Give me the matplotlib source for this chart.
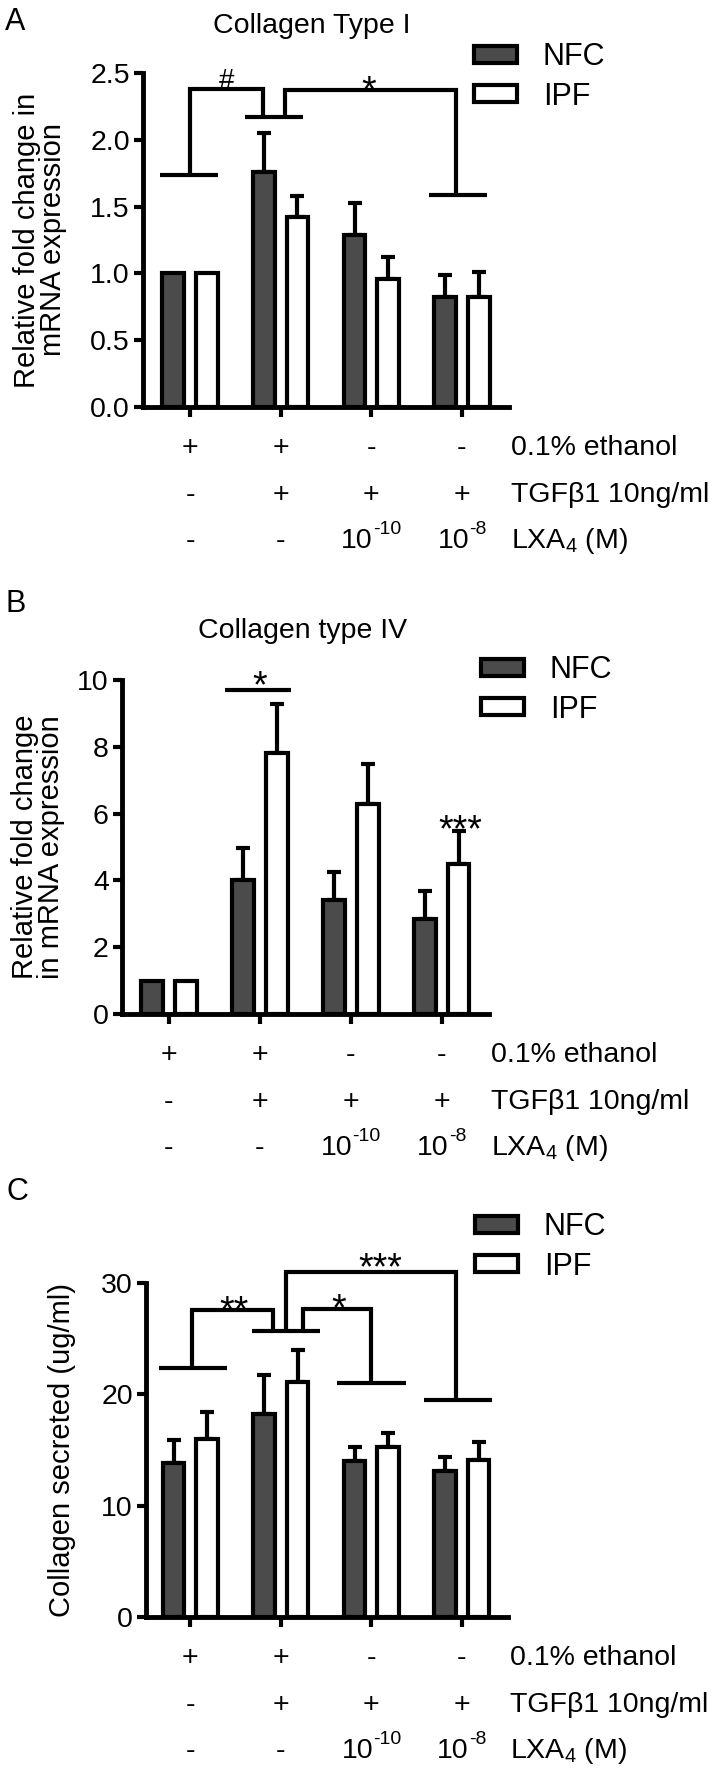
import matplotlib
matplotlib.use('Agg')
import matplotlib.pyplot as plt
import numpy as np

plt.rcParams['font.family'] = ['Liberation Sans', 'DejaVu Sans']
plt.rcParams['mathtext.fontset'] = 'custom'
plt.rcParams['mathtext.rm'] = 'Liberation Sans'
plt.rcParams['mathtext.it'] = 'Liberation Sans:italic'
plt.rcParams['mathtext.bf'] = 'Liberation Sans:bold'

# ---------------- data ----------------
groups = [0, 1, 2, 3]
series_names = ['NFC', 'IPF']
row_titles = ['0.1% ethanol', 'TGFβ1 10ng/ml', r'LXA$_{\mathregular{4}}$ (M)']
ethanol_row = ['+', '+', '-', '-']
tgf_row = ['-', '+', '+', '+']
# LXA4 row: (base, exponent) ; exponent None -> plain text
lxa_row = [('-', None), ('-', None), ('10', '-10'), ('10', '-8')]

# Panel A: Collagen Type I mRNA
a_nfc = [1.0, 1.76, 1.29, 0.82]
a_nfc_err = [0.0, 0.29, 0.24, 0.17]
a_ipf = [1.0, 1.42, 0.96, 0.82]
a_ipf_err = [0.0, 0.16, 0.16, 0.19]
a_yticks = [0.0, 0.5, 1.0, 1.5, 2.0, 2.5]

# Panel B: Collagen type IV mRNA
b_nfc = [1.0, 4.0, 3.4, 2.85]
b_nfc_err = [0.0, 0.98, 0.85, 0.82]
b_ipf = [1.0, 7.8, 6.3, 4.5]
b_ipf_err = [0.0, 1.47, 1.2, 0.98]
b_yticks = [0, 2, 4, 6, 8, 10]

# Panel C: Collagen secreted
c_nfc = [13.8, 18.2, 14.0, 13.1]
c_nfc_err = [2.1, 3.5, 1.3, 1.3]
c_ipf = [16.0, 21.1, 15.3, 14.1]
c_ipf_err = [2.4, 2.9, 1.2, 1.6]
c_yticks = [0, 10, 20, 30]

# significance annotations: feet (center, y, half-width), links (polylines),
# labels (x, glyph-centre y, text, glyph-centre fraction of font size, font size)
a_feet = [(-0.01, 1.74, 0.32), (0.93, 2.17, 0.32), (2.96, 1.59, 0.32)]
a_links = [[(0.0, 1.74), (0.0, 2.38), (0.81, 2.38), (0.81, 2.17)],
           [(1.05, 2.17), (1.05, 2.37), (2.94, 2.37), (2.94, 1.59)]]
a_labels = [(0.40, 2.46, '#', 0.36, 20), (1.97, 2.44, '*', 0.575, 27)]

b_feet = [(0.98, 9.7, 0.365)]
b_links = []
b_labels = [(1.0, 10.12, '*', 0.575, 27), (3.2, 5.81, '***', 0.575, 27)]

c_feet = [(0.03, 22.4, 0.375), (1.06, 25.7, 0.375), (2.0, 21.0, 0.38), (2.96, 19.5, 0.375)]
c_links = [[(0.02, 22.4), (0.02, 27.6), (0.91, 27.6), (0.91, 25.7)],
           [(1.24, 25.7), (1.24, 27.7), (2.0, 27.7), (2.0, 21.0)],
           [(1.06, 25.7), (1.06, 31.0), (2.94, 31.0), (2.94, 19.5)]]
c_labels = [(0.48, 28.4, '**', 0.575, 27), (1.64, 28.6, '*', 0.575, 27),
            (2.10, 32.3, '***', 0.575, 27)]

# ---------------- figure ----------------
W, H, DPI = 716, 1771, 100
fig = plt.figure(figsize=(W / DPI, H / DPI), dpi=DPI)
PX = 72.0 / DPI  # points per pixel
renderer = fig.canvas.get_renderer()

NFC_COLOR = '#4b4b4b'
FS = 20.5
SUP_FS = 14
LW = 3.0


def make_axes(l, r, t, b):
    return fig.add_axes([l / W, 1 - b / H, (r - l) / W, (b - t) / H])


def power_label(ax, g, base, exp, yoff_pt):
    t1 = ax.annotate(base, xy=(g, 0), xycoords=('data', 'axes fraction'),
                     xytext=(0, yoff_pt), textcoords='offset points',
                     ha='left', va='center', fontsize=FS, annotation_clip=False)
    t2 = ax.annotate(exp, xy=(g, 0), xycoords=('data', 'axes fraction'),
                     xytext=(0, yoff_pt + 0.42 * FS), textcoords='offset points',
                     ha='left', va='center', fontsize=SUP_FS, annotation_clip=False)
    w1 = t1.get_window_extent(renderer).width * PX
    w2 = t2.get_window_extent(renderer).width * PX
    start = -(w1 + w2) / 2.0
    t1.xyann = (start, yoff_pt)
    t2.xyann = (start + w1, yoff_pt + 0.42 * FS)


def draw_panel(ax, nfc, nfc_err, ipf, ipf_err, yticks, fmt, xlim,
               feet, links, labels, legend_px):
    x = np.array(groups, dtype=float)
    off, bw = 0.185, 0.24
    b1 = ax.bar(x - off, nfc, bw, color=NFC_COLOR, edgecolor='black', linewidth=LW, zorder=2)
    b2 = ax.bar(x + off, ipf, bw, color='white', edgecolor='black', linewidth=LW, zorder=2)
    for xs, vals, errs in ((x - off, nfc, nfc_err), (x + off, ipf, ipf_err)):
        vals = np.array(vals); errs = np.array(errs)
        m = errs > 0
        ax.errorbar(xs[m], vals[m], yerr=[np.zeros(m.sum()), errs[m]], fmt='none',
                    ecolor='black', elinewidth=LW, capsize=5, capthick=LW, zorder=1.5)
    ax.set_xlim(*xlim)
    ax.set_ylim(yticks[0], yticks[-1])
    ax.set_yticks(yticks)
    ax.set_yticklabels([fmt.format(v) for v in yticks])
    ax.set_xticks(groups)
    ax.set_xticklabels([])
    for s in ('top', 'right'):
        ax.spines[s].set_visible(False)
    for s in ('left', 'bottom'):
        ax.spines[s].set_linewidth(3.5)
    ax.tick_params(axis='y', direction='out', length=6.5, width=3, pad=3, labelsize=FS)
    ax.tick_params(axis='x', direction='out', length=7, width=3)
    ax.patch.set_visible(False)

    for xc, y, h in feet:
        ax.plot([xc - h, xc + h], [y, y], color='black', lw=LW, clip_on=False,
                solid_capstyle='butt')
    for path in links:
        xs, ys = zip(*path)
        ax.plot(xs, ys, color='black', lw=LW, clip_on=False,
                solid_capstyle='butt', solid_joinstyle='miter')
    for xc, yc, s, frac, fs in labels:
        ax.annotate(s, xy=(xc, yc), xytext=(0, -frac * fs), textcoords='offset points',
                    ha='center', va='baseline', fontsize=fs, annotation_clip=False)

    # condition rows
    offs = [41, 88, 134]
    for row, o in zip([ethanol_row, tgf_row], offs[:2]):
        for g, s in zip(groups, row):
            ax.annotate(s, xy=(g, 0), xycoords=('data', 'axes fraction'),
                        xytext=(0, -o * PX), textcoords='offset points',
                        ha='center', va='center', fontsize=FS, annotation_clip=False)
    for g, (base, exp) in zip(groups, lxa_row):
        if exp is None:
            ax.annotate(base, xy=(g, 0), xycoords=('data', 'axes fraction'),
                        xytext=(0, -offs[2] * PX), textcoords='offset points',
                        ha='center', va='center', fontsize=FS, annotation_clip=False)
        else:
            power_label(ax, g, base, exp, -offs[2] * PX)
    for title, o in zip(row_titles, offs):
        ax.annotate(title, xy=(1.0, 0), xycoords='axes fraction',
                    xytext=(2 * PX, -o * PX), textcoords='offset points',
                    ha='left', va='center', fontsize=FS, annotation_clip=False)

    lx, ly = legend_px
    ax.legend([b1, b2], series_names, loc='upper left',
              bbox_to_anchor=(lx / W, 1 - ly / H), bbox_transform=fig.transFigure,
              frameon=False, borderpad=0, borderaxespad=0, handlelength=1.4,
              handleheight=0.48, handletextpad=0.85, labelspacing=0.32, fontsize=22)


axA = make_axes(143, 509, 73, 407)
draw_panel(axA, a_nfc, a_nfc_err, a_ipf, a_ipf_err, a_yticks, '{:.1f}', (-0.52, 3.52),
           a_feet, a_links, a_labels, (474, 42))

axB = make_axes(122, 489, 680, 1014)
draw_panel(axB, b_nfc, b_nfc_err, b_ipf, b_ipf_err, b_yticks, '{:d}', (-0.516, 3.52),
           b_feet, b_links, b_labels, (481, 655))

axC = make_axes(146, 508, 1283, 1617)
draw_panel(axC, c_nfc, c_nfc_err, c_ipf, c_ipf_err, c_yticks, '{:d}', (-0.49, 3.51),
           c_feet, c_links, c_labels, (475, 1212))

# titles, panel letters, y labels
fig.text(312 / W, 1 - 33 / H, 'Collagen Type I', ha='center', va='baseline', fontsize=FS)
fig.text(303 / W, 1 - 638 / H, 'Collagen type IV', ha='center', va='baseline', fontsize=FS)
for letter, (px, py) in zip(['A', 'B', 'C'], [(5, 30), (5, 612), (7, 1200)]):
    fig.text(px / W, 1 - py / H, letter, ha='left', va='baseline', fontsize=22)

fig.text(40 / W, 1 - 240 / H, 'Relative fold change in\nmRNA expression', rotation=90,
         ha='center', va='center', fontsize=21, linespacing=0.95)
fig.text(38 / W, 1 - 847 / H, 'Relative fold change\nin mRNA expression', rotation=90,
         ha='center', va='center', fontsize=21, linespacing=0.95)
fig.text(62 / W, 1 - 1450 / H, 'Collagen secreted (ug/ml)', rotation=90,
         ha='center', va='center', fontsize=21)

fig.savefig('out.png', dpi=DPI)
